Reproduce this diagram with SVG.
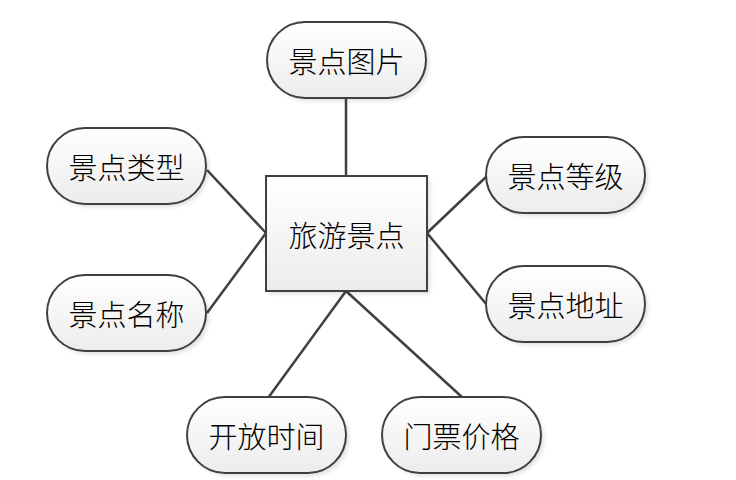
<svg xmlns="http://www.w3.org/2000/svg" width="736" height="480" viewBox="0 0 736 480">
<style>
.shape{fill:url(#g);stroke:#404040;stroke-width:2}
.sh{fill:#000;opacity:0.12;filter:url(#blur)}
.t{font-family:"Noto Sans CJK SC","Noto Sans CJK JP",sans-serif;font-size:29px;font-weight:300;fill:#000;text-anchor:middle;dominant-baseline:central}
.c{stroke:#404040;stroke-width:2.5;fill:none}
</style>
<defs>
<linearGradient id="g" x1="0" y1="0" x2="0" y2="1">
<stop offset="0" stop-color="#ffffff"/>
<stop offset="1" stop-color="#ececec"/>
</linearGradient>
<filter id="blur" x="-20%" y="-20%" width="140%" height="140%"><feGaussianBlur stdDeviation="2"/></filter>
</defs>
<rect width="736" height="480" fill="#fff"/>
<g id="connectors">
<line class="c" x1="346" y1="98" x2="346" y2="176"/>
<line class="c" x1="207" y1="170" x2="266" y2="233"/>
<line class="c" x1="266" y1="233" x2="207" y2="313"/>
<line class="c" x1="427" y1="233" x2="487" y2="176"/>
<line class="c" x1="427" y1="233" x2="487" y2="305"/>
<line class="c" x1="346" y1="291" x2="268" y2="398"/>
<line class="c" x1="346" y1="291" x2="463" y2="398"/>
</g>
<g id="center">
<rect class="sh" x="269" y="179" width="161" height="115"/>
<rect class="shape" x="266" y="176" width="161" height="115"/>
<text class="t" x="346.5" y="233.5">旅游景点</text>
</g>
<g id="n-pic">
<rect class="sh" x="270" y="25" width="159" height="76" rx="38"/>
<rect class="shape" x="267" y="22" width="159" height="76" rx="38"/>
<text class="t" x="346.5" y="60">景点图片</text>
</g>
<g id="n-type">
<rect class="sh" x="50" y="131" width="159" height="76" rx="38"/>
<rect class="shape" x="47" y="128" width="159" height="76" rx="38"/>
<text class="t" x="126.5" y="166">景点类型</text>
</g>
<g id="n-name">
<rect class="sh" x="50" y="278" width="159" height="76" rx="38"/>
<rect class="shape" x="47" y="275" width="159" height="76" rx="38"/>
<text class="t" x="126.5" y="313">景点名称</text>
</g>
<g id="n-level">
<rect class="sh" x="489" y="140" width="159" height="76" rx="38"/>
<rect class="shape" x="486" y="137" width="159" height="76" rx="38"/>
<text class="t" x="565.5" y="175">景点等级</text>
</g>
<g id="n-addr">
<rect class="sh" x="489" y="269" width="159" height="76" rx="38"/>
<rect class="shape" x="486" y="266" width="159" height="76" rx="38"/>
<text class="t" x="565.5" y="304">景点地址</text>
</g>
<g id="n-time">
<rect class="sh" x="190" y="400" width="159" height="76" rx="38"/>
<rect class="shape" x="187" y="397" width="159" height="76" rx="38"/>
<text class="t" x="266.5" y="435">开放时间</text>
</g>
<g id="n-price">
<rect class="sh" x="385" y="400" width="159" height="76" rx="38"/>
<rect class="shape" x="382" y="397" width="159" height="76" rx="38"/>
<text class="t" x="461.5" y="435">门票价格</text>
</g>
</svg>
